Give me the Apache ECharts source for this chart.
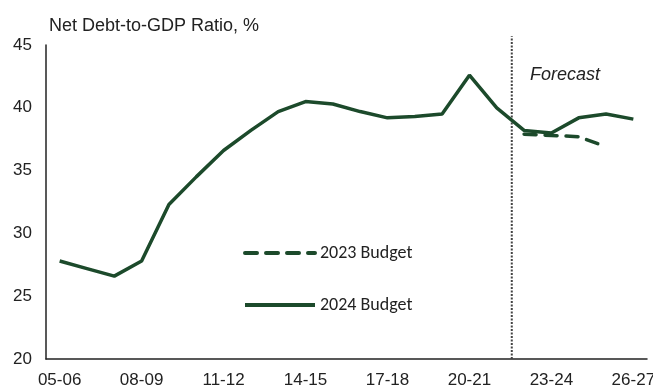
<!DOCTYPE html>
<html>
<head>
<meta charset="utf-8">
<script src="https://cdn.jsdelivr.net/npm/echarts@6/dist/echarts.min.js"></script>
<style>
  html, body { margin: 0; padding: 0; background: #fff; }
  #main { width: 653px; height: 387px; }
</style>
</head>
<body>
<div id="main"></div>
<script>
const years = ['05-06', '06-07', '07-08', '08-09', '09-10', '10-11', '11-12', '12-13', '13-14', '14-15', '15-16',
  '16-17', '17-18', '18-19', '19-20', '20-21', '21-22', '22-23', '23-24', '24-25', '25-26', '26-27'];
const budget2024 = [27.8, 27.2, 26.6, 27.8, 32.3, 34.5, 36.6, 38.2, 39.7, 40.5, 40.3,
  39.7, 39.2, 39.3, 39.5, 42.6, 40.0, 38.2, 38.0, 39.2, 39.5, 39.1];
const budget2023 = [null, null, null, null, null, null, null, null, null, null, null,
  null, null, null, null, null, null, 37.9, 37.8, 37.7, 36.9, null];
// forecast divider, in category units on a hidden value axis
const forecastLine = [[17.05, 20], [17.05, 45.7]];

const green = '#1c4a2b';
const chart = echarts.init(document.getElementById('main'));

const option = {
  animation: false,
  textStyle: { fontFamily: 'Liberation Sans, Arial, sans-serif' },
  title: {
    text: 'Net Debt-to-GDP Ratio, %',
    left: 44,
    top: 12,
    textStyle: { fontSize: 18, fontWeight: 'normal', color: '#222' }
  },
  grid: { left: 46, right: 6, top: 45, bottom: 28, outerBoundsMode: 'none' },
  legend: {
    orient: 'vertical',
    left: 243,
    top: 244,
    padding: 0,
    itemWidth: 70,
    itemHeight: 16,
    itemGap: 34,
    data: ['2023 Budget', '2024 Budget'],
    itemStyle: { opacity: 0 },
    lineStyle: { width: 4 },
    textStyle: { fontSize: 18, color: '#222', fontFamily: 'Carlito, Lato, sans-serif' }
  },
  xAxis: [
    {
      type: 'category',
      data: years,
      boundaryGap: true,
      axisLine: { lineStyle: { color: '#222', width: 1.5 } },
      axisTick: { show: false },
      axisLabel: { interval: 2, fontSize: 17, color: '#222', margin: 13 }
    },
    {
      type: 'value',
      min: 0,
      max: 22,
      show: false
    }
  ],
  yAxis: {
    type: 'value',
    min: 20,
    max: 45,
    interval: 5,
    axisLine: { show: true, lineStyle: { color: '#222', width: 1.5 } },
    axisTick: { show: false },
    splitLine: { show: false },
    axisLabel: { fontSize: 17, color: '#222', margin: 14 }
  },
  graphic: [
    {
      type: 'text',
      left: 530,
      top: 66,
      style: { text: 'Forecast', font: 'italic 18px Liberation Sans, Arial, sans-serif', fill: '#222' }
    }
  ],
  series: [
    {
      name: 'forecast',
      type: 'line',
      xAxisIndex: 1,
      data: forecastLine,
      symbol: 'none',
      clip: false,
      silent: true,
      lineStyle: { color: '#444', width: 2, type: [2, 1.5] }
    },
    {
      name: '2023 Budget',
      type: 'line',
      data: budget2023,
      symbol: 'none',
      color: green,
      lineStyle: { color: green, width: 3.5, type: [12, 9], cap: 'round' }
    },
    {
      name: '2024 Budget',
      type: 'line',
      data: budget2024,
      symbol: 'none',
      color: green,
      lineStyle: { color: green, width: 3.5 }
    }
  ]
};

chart.setOption(option);
</script>
</body>
</html>
